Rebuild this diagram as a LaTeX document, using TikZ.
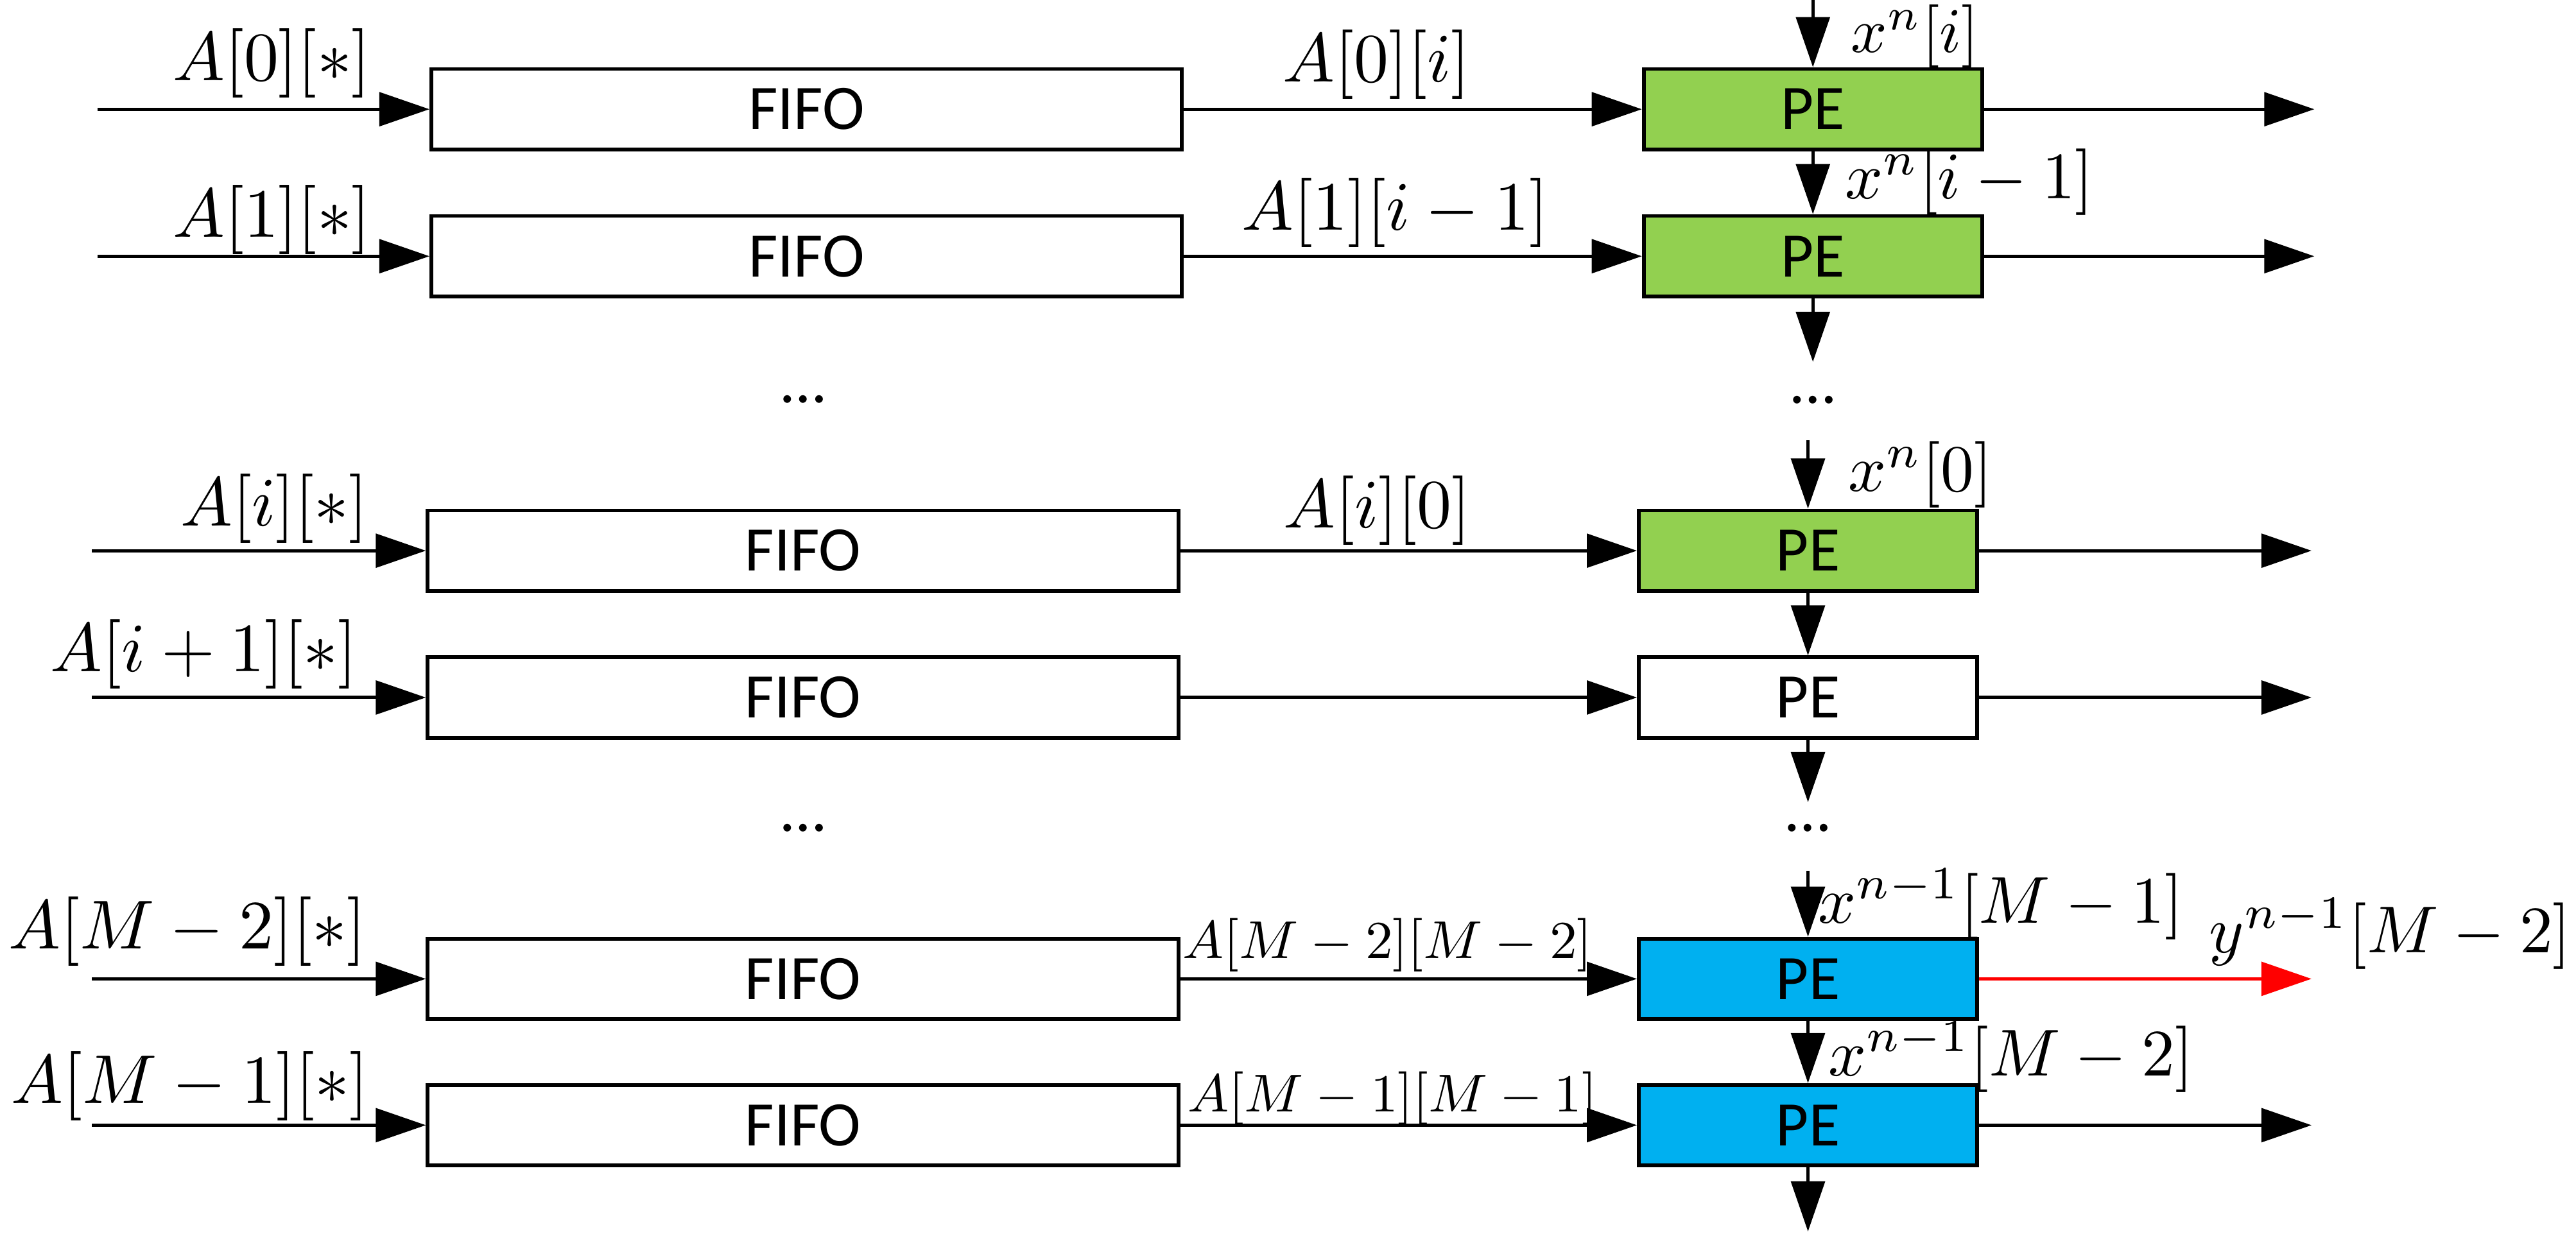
\documentclass[tikz,border=0pt]{standalone}
\usepackage{graphicx}
\usepackage{fontspec}
\newfontfamily\calibri{Carlito}
\usetikzlibrary{arrows.meta}
\definecolor{pegreen}{HTML}{92D050}
\definecolor{peblue}{HTML}{00B0F0}
\definecolor{outred}{HTML}{FF0000}
\newcommand{\mlbig}[1]{\scalebox{2.4}{$#1$}}
\newcommand{\mlmid}[1]{\scalebox{2.3}{$#1$}}
\newcommand{\mlsmall}[1]{\scalebox{1.9}[1.85]{$#1$}}
\tikzset{
  box/.style={draw=black, line width=1.3pt, inner sep=0pt, minimum height=0.98cm,
    font=\calibri\fontsize{22}{26}\selectfont},
  fifo/.style={box, minimum width=9.14cm},
  pe/.style={box, minimum width=4.12cm},
  conn/.style={line width=1.1pt, -{Triangle[length=0.61cm,width=0.41cm]}},
  lbl/.style={inner sep=0pt, anchor=base},
  ellip/.style={inner sep=0pt, anchor=base, font=\calibri\fontsize{22}{26}\selectfont},
}
\begin{document}
\begin{tikzpicture}[x=0.02cm,y=-0.02cm]
\useasboundingbox (0,0) rectangle (1568,751);

% ---- boxes ----
\node[fifo] (f1) at (491,66.5) {FIFO};
\node[fifo] (f2) at (491,156) {FIFO};
\node[fifo] (f3) at (488.8,335.3) {FIFO};
\node[fifo] (f4) at (488.8,424.7) {FIFO};
\node[fifo] (f5) at (488.8,596) {FIFO};
\node[fifo] (f6) at (488.8,685.1) {FIFO};

\node[pe, fill=pegreen] (p1) at (1103.5,66.5) {PE};
\node[pe, fill=pegreen] (p2) at (1103.5,156) {PE};
\node[pe, fill=pegreen] (p3) at (1100.5,335.3) {PE};
\node[pe, fill=white]   (p4) at (1100.5,424.7) {PE};
\node[pe, fill=peblue]  (p5) at (1100.5,596) {PE};
\node[pe, fill=peblue]  (p6) at (1100.5,685.1) {PE};

% ---- free ends ----
\coordinate (s1) at (59.3,66.5);
\coordinate (s2) at (59.3,156);
\coordinate (s3) at (55.9,335.3);
\coordinate (s4) at (55.9,424.7);
\coordinate (s5) at (55.9,596);
\coordinate (s6) at (55.9,685.1);
\coordinate (o1) at (1408.7,66.5);
\coordinate (o2) at (1408.7,156);
\coordinate (o3) at (1407,335.3);
\coordinate (o4) at (1407,424.7);
\coordinate (o5) at (1407,596);
\coordinate (o6) at (1407,685.1);
\coordinate (t1) at (1103.5,0);
\coordinate (b2) at (1103.5,220.3);
\coordinate (t3) at (1100.5,268);
\coordinate (b4) at (1100.5,488.4);
\coordinate (t5) at (1100.5,530.4);
\coordinate (b6) at (1100.5,749.8);

% ---- horizontal connectors ----
\foreach \r in {1,...,6}{
  \draw[conn] (s\r) -- (f\r);
  \draw[conn] (f\r) -- (p\r);
}
\foreach \r in {1,2,3,4,6}{
  \draw[conn] (p\r) -- (o\r);
}
\draw[conn, draw=outred, fill=outred] (p5) -- (o5);

% ---- vertical connectors ----
\draw[conn] (t1) -- (p1);
\draw[conn] (p1) -- (p2);
\draw[conn] (p2) -- (b2);
\draw[conn] (t3) -- (p3);
\draw[conn] (p3) -- (p4);
\draw[conn] (p4) -- (b4);
\draw[conn] (t5) -- (p5);
\draw[conn] (p5) -- (p6);
\draw[conn] (p6) -- (b6);

% ---- ellipses ----
\node[ellip] (d1) at (489,245) {…};
\node[ellip] (d2) at (1103.5,245.5) {…};
\node[ellip] (d3) at (489,506) {…};
\node[ellip] (d4) at (1100.5,506) {…};

% ---- input labels ----
\node[lbl] (l1) at (165.5,49.1) {\mlbig{A[0][*]}};
\node[lbl] (l2) at (165.5,144.2) {\mlbig{A[1][*]}};
\node[lbl] (l3) at (167,320) {\mlbig{A[i][*]}};
\node[lbl] (l4) at (124.2,408.8) {\mlbig{A[i+1][*]}};
\node[lbl] (l5) at (114,577.7) {\mlbig{A[M-2][*]}};
\node[lbl] (l6) at (115.6,671.7) {\mlbig{A[M-1][*]}};

% ---- FIFO output labels ----
\node[lbl] (m1) at (838,49.9) {\mlbig{A[0][i]}};
\node[lbl] (m2) at (849.4,140.2) {\mlbig{A[1][i-1]}};
\node[lbl] (m3) at (838.3,321.2) {\mlbig{A[i][0]}};
\node[lbl] (m5) at (844.6,583.5) {\mlsmall{A[M-2][M-2]}};
\node[lbl] (m6) at (847.7,677) {\mlsmall{A[M-1][M-1]}};

% ---- x / y labels ----
\node[lbl] (x1) at (1165.7,32) {\scalebox{2.2}{$x^n[i]$}};
\node[lbl] (x2) at (1198.8,121.1) {\mlmid{x^n[i-1]}};
\node[lbl] (x3) at (1169,299.2) {\mlmid{x^n[0]}};
\node[lbl] (x5) at (1217.9,562) {\mlmid{x^{n-1}[M-1]}};
\node[lbl] (x6) at (1224,655) {\mlmid{x^{n-1}[M-2]}};
\node[lbl] (y5) at (1455,580) {\mlmid{y^{n-1}[M-2]}};
\end{tikzpicture}
\end{document}
